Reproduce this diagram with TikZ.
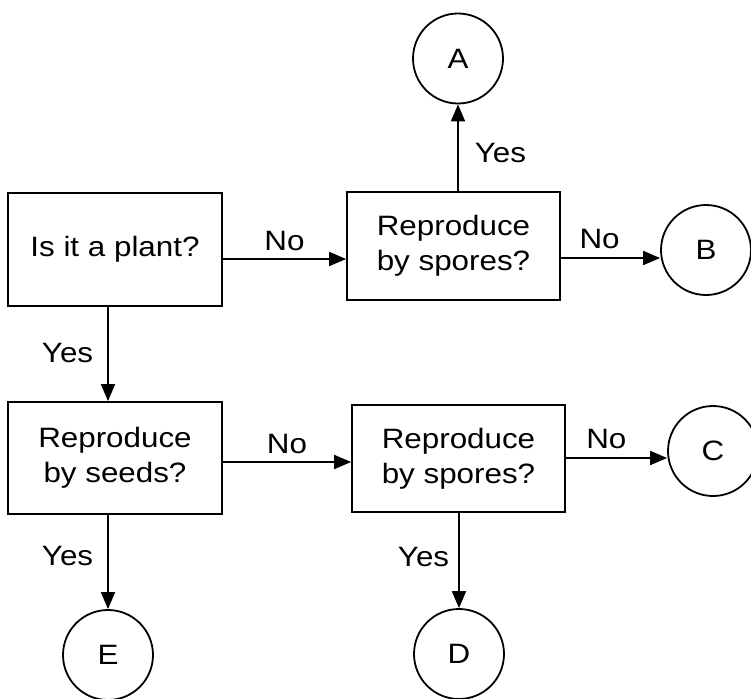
\documentclass[tikz,border=0pt]{standalone}
\usepackage{fontspec}
\setmainfont{Liberation Sans}[FakeStretch=1.12]
\usetikzlibrary{arrows.meta}
\begin{document}
\begin{tikzpicture}[x=1pt,y=-1pt,
  every node/.style={font=\fontsize{28}{35}\selectfont},
  box/.style={draw, line width=1.8pt, align=center, inner sep=0pt},
  circ/.style={draw, circle, line width=1.8pt, minimum size=90pt, inner sep=0pt},
  arr/.style={line width=1.8pt, -{Triangle[length=17pt,width=14pt]}},
  lab/.style={inner sep=0pt}]
\clip (0,0) rectangle (751,698);
% question boxes
\node[box, minimum width=214pt, minimum height=113pt] (q1) at (115,249.5) {Is it a plant?};
\node[box, minimum width=213pt, minimum height=108pt] (q2) at (453.5,246) {Reproduce\\by spores?};
\node[box, minimum width=214pt, minimum height=112pt] (q3) at (115,458) {Reproduce\\by seeds?};
\node[box, minimum width=213pt, minimum height=107pt] (q4) at (458.5,458.5) {Reproduce\\by spores?};
% outcome circles
\node[circ] (A) at (458,58.5) {A};
\node[circ] (B) at (706,250) {B};
\node[circ] (C) at (713,451) {C};
\node[circ] (D) at (459,654) {D};
\node[circ] (E) at (108,655) {E};
% helper rows for horizontal connectors
\coordinate (r1) at (0,259);
\coordinate (r2) at (0,258);
\coordinate (r3) at (0,462);
\coordinate (r4) at (0,458);
% connectors
\draw[arr] (q1.east |- r1) -- node[lab, above=7pt] {No} (q2.west |- r1);
\draw[arr] (q2.east |- r2) -- node[lab, above=8pt, pos=0.39] {No} (B.west |- r2);
\draw[arr] (A.south |- q2.north) -- node[lab, right=16pt, pos=0.44] {Yes} (A.south);
\draw[arr] (E.north |- q1.south) -- node[lab, left=14pt, pos=0.49] {Yes} (E.north |- q3.north);
\draw[arr] (q3.east |- r3) -- node[lab, above=7pt] {No} (q4.west |- r3);
\draw[arr] (q4.east |- r4) -- node[lab, above=8pt, pos=0.4] {No} (C.west |- r4);
\draw[arr] (D.north |- q4.south) -- node[lab, left=9pt, pos=0.46] {Yes} (D.north);
\draw[arr] (E.north |- q3.south) -- node[lab, left=14pt, pos=0.44] {Yes} (E.north);
\end{tikzpicture}
\end{document}
